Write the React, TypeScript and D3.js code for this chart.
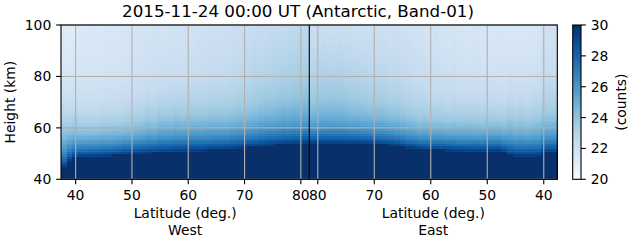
import React from "react";
import * as d3 from "d3";

// ---------- data ----------
const TITLE = "2015-11-24 00:00 UT (Antarctic, Band-01)";
const heightTicks = [40, 60, 80, 100];
const latTicks = [40, 50, 60, 70, 80];
const cbTicks = [20, 22, 24, 26, 28, 30];
const heightRows = d3.range(40, 100, 1); // 1-km rows (row bottoms)

// West half: column start latitudes (increasing poleward), last column ends at westEnd
const westLat = [37.4, 38.4, 39.4, 40.4, 41.4, 42.4, 43.4, 44.4, 45.4, 46.4, 47.4, 48.4, 49.4, 50.4, 51.4, 52.4, 53.4, 54.4, 55.4, 56.4, 57.4, 58.4, 59.4, 60.4, 61.4, 62.4, 63.4, 64.4, 65.4, 66.4, 67.4, 68.4, 69.4, 70.4, 71.4, 72.4, 73.4, 74.4, 75.4, 76.4, 77.4, 78.4, 79.4, 80.4];
const westEnd = 81.5;
// top of saturated layer (km)
const westTop = [45.0, 47.5, 48.6, 49.0, 49.1, 49.2, 49.2, 49.3, 49.4, 49.6, 49.8, 50.0, 50.1, 50.2, 50.4, 50.5, 50.6, 50.7, 50.8, 50.9, 51.0, 51.1, 51.2, 51.3, 51.4, 51.5, 51.6, 51.7, 51.8, 51.9, 52.1, 52.3, 52.5, 52.7, 52.9, 53.1, 53.3, 53.5, 53.6, 53.8, 53.9, 54.0, 54.1, 54.3];
// fall-off scale above the layer (km)
const westScale = [11, 9.5, 9, 8, 8, 8, 8, 8, 8, 8, 8, 8, 8, 8.5, 8.5, 9, 9, 9.5, 9.5, 9.5, 9.5, 9.5, 9.5, 9.5, 9, 9, 9, 9, 8.5, 8.5, 8.5, 8.5, 8, 8, 8, 8, 8, 8, 8, 8, 7.5, 7.5, 7.5, 7.5];
// background counts at 70 km and 100 km
const westBg70 = [21.6, 21.6, 21.7, 21.8, 21.8, 21.8, 21.8, 21.9, 21.9, 21.9, 21.9, 22.0, 22.0, 22.0, 22.0, 22.1, 22.0, 22.1, 22.1, 22.1, 22.2, 22.1, 22.2, 22.2, 22.3, 22.3, 22.4, 22.4, 22.5, 22.5, 22.6, 22.7, 22.8, 22.9, 23.0, 23.1, 23.2, 23.2, 23.3, 23.4, 23.5, 23.6, 23.6, 23.7];
const westBg100 = [21.1, 21.1, 21.2, 21.4, 21.5, 21.5, 21.4, 21.5, 21.6, 21.5, 21.6, 21.6, 21.7, 21.8, 21.7, 21.8, 21.9, 21.8, 21.8, 21.9, 21.8, 21.9, 22.0, 21.9, 22.0, 22.0, 22.1, 22.0, 22.1, 22.1, 22.2, 22.2, 22.3, 22.3, 22.4, 22.4, 22.4, 22.5, 22.5, 22.5, 22.6, 22.6, 22.7, 22.7];

// East half: column start latitudes (decreasing equatorward), last column ends at eastEnd
const eastLat = [81.5, 80.5, 79.5, 78.5, 77.5, 76.5, 75.5, 74.5, 73.5, 72.5, 71.5, 70.5, 69.5, 68.5, 67.5, 66.5, 65.5, 64.5, 63.5, 62.5, 61.5, 60.5, 59.5, 58.5, 57.5, 56.5, 55.5, 54.5, 53.5, 52.5, 51.5, 50.5, 49.5, 48.5, 47.5, 46.5, 45.5, 44.5, 43.5, 42.5, 41.5, 40.5, 39.5, 38.5];
const eastEnd = 37.6;
const eastTop = [54.3, 54.3, 54.3, 54.3, 54.2, 54.2, 54.2, 54.1, 54.1, 54.0, 54.0, 53.9, 53.7, 53.6, 53.4, 53.1, 52.8, 52.5, 52.3, 52.0, 51.8, 51.7, 51.7, 51.6, 51.5, 51.4, 51.3, 51.2, 51.1, 51.1, 51.1, 51.2, 51.3, 51.3, 50.8, 49.8, 49.4, 49.4, 49.4, 49.4, 49.5, 50.6, 50.7, 50.7];
const eastScale = [6.5, 6.5, 6.5, 6.5, 6.5, 6.5, 6.5, 6.5, 6.5, 6.5, 6.5, 6.5, 7, 7, 7, 7, 7, 7, 7, 7, 7.5, 7.5, 7.5, 7.5, 7.5, 7.5, 7.5, 8, 8, 8, 8, 8, 8, 8, 8, 9.5, 9.5, 9.5, 9.5, 9.5, 9.5, 9, 9, 9];
const eastBg70 = [23.4, 23.5, 23.6, 23.6, 23.6, 23.6, 23.5, 23.4, 23.4, 23.3, 23.2, 23.2, 23.1, 23.0, 22.9, 22.9, 22.8, 22.7, 22.6, 22.5, 22.4, 22.3, 22.3, 22.3, 22.2, 22.3, 22.2, 22.1, 22.1, 22.1, 22.0, 22.1, 22.0, 22.0, 22.0, 22.0, 21.9, 22.0, 21.9, 22.0, 22.1, 22.4, 22.4, 22.4];
const eastBg100 = [22.2, 22.2, 22.3, 22.2, 22.2, 22.3, 22.2, 22.2, 22.1, 22.2, 22.1, 22.1, 22.1, 22.1, 22.0, 22.1, 22.0, 22.0, 21.9, 21.9, 21.8, 21.8, 21.9, 21.8, 21.7, 21.8, 21.7, 21.6, 21.6, 21.7, 21.6, 21.6, 21.5, 21.6, 21.5, 21.5, 21.5, 21.4, 21.5, 21.5, 21.6, 21.9, 21.9, 21.9];

const BLUES = ["#f7fbff", "#deebf7", "#c6dbef", "#9ecae1", "#6baed6", "#4292c6", "#2171b5", "#08519c", "#08306b"];

// ---------- layout ----------
const W = 631, H = 243;
const PL = 61, PR = 557.3, PT = 25, PB = 179.3, MID = 309.3;
const CBX0 = 572.7, CBX1 = 581;
const FONT = "DejaVu Sans";
const FS = 13.9;
const TICK = 4.86;

const xWest = d3.scaleLinear().domain([westLat[0], westEnd]).range([PL, MID]);
const xEast = d3.scaleLinear().domain([eastLat[0], eastEnd]).range([MID, PR]);
const y = d3.scaleLinear().domain([40, 100]).range([PB, PT]);
const color = d3
  .scaleLinear<string>()
  .domain(d3.range(BLUES.length).map((i) => 20 + (10 * i) / (BLUES.length - 1)))
  .range(BLUES)
  .interpolate(d3.interpolateRgb)
  .clamp(true);
const cbY = d3.scaleLinear().domain([20, 30]).range([PB, PT]);

function cellValue(h: number, top: number, sc: number, b70: number, b100: number) {
  if (h < top) return 31;
  const b = b100 + ((b70 - b100) * (100 - h)) / 30;
  return b + (29.5 - b) * Math.exp(-(h - top) / sc);
}

type Col = { x0: number; x1: number; top: number; sc: number; b70: number; b100: number };

const cols: Col[] = [
  ...westLat.map((lat, i) => ({
    x0: xWest(lat),
    x1: xWest(i + 1 < westLat.length ? westLat[i + 1] : westEnd),
    top: westTop[i],
    sc: westScale[i],
    b70: westBg70[i],
    b100: westBg100[i],
  })),
  ...eastLat.map((lat, i) => ({
    x0: xEast(lat),
    x1: xEast(i + 1 < eastLat.length ? eastLat[i + 1] : eastEnd),
    top: eastTop[i],
    sc: eastScale[i],
    b70: eastBg70[i],
    b100: eastBg100[i],
  })),
];

export default function App() {
  const cbSteps = d3.range(20, 30, 0.05);
  return (
    <svg
      width={W}
      height={H}
      style={{ position: "absolute", left: 0, top: 0, background: "#fff" }}
      fontFamily={FONT}
    >
      {/* heatmap */}
      <g shapeRendering="crispEdges">
        {cols.map((c, ci) =>
          heightRows.map((h) => (
            <rect
              key={`${ci}-${h}`}
              x={c.x0}
              y={y(h + 1)}
              width={c.x1 - c.x0 + 0.6}
              height={y(h) - y(h + 1) + 0.6}
              fill={color(cellValue(h + 0.5, c.top, c.sc, c.b70, c.b100))}
            />
          ))
        )}
      </g>
      {/* grid */}
      <g stroke="#b0b0b0" strokeWidth={1.1}>
        {latTicks.map((t) => (
          <line key={`gw${t}`} x1={xWest(t)} x2={xWest(t)} y1={PT} y2={PB} />
        ))}
        {latTicks.map((t) => (
          <line key={`ge${t}`} x1={xEast(t)} x2={xEast(t)} y1={PT} y2={PB} />
        ))}
        {heightTicks.map((t) => (
          <line key={`gh${t}`} x1={PL} x2={PR} y1={y(t)} y2={y(t)} />
        ))}
      </g>
      {/* frame + separator */}
      <rect x={PL} y={PT} width={PR - PL} height={PB - PT} fill="none" stroke="#000" strokeWidth={1.1} />
      <line x1={MID} x2={MID} y1={PT} y2={PB} stroke="#000" strokeWidth={1.1} />

      {/* y axis */}
      {heightTicks.map((t) => (
        <g key={`yt${t}`}>
          <line x1={PL - TICK} x2={PL} y1={y(t)} y2={y(t)} stroke="#000" strokeWidth={1.1} />
          <text x={PL - TICK - 4.86} y={y(t) + 5} textAnchor="end" fontSize={FS}>
            {t}
          </text>
        </g>
      ))}
      <text transform={`translate(15,${(PT + PB) / 2}) rotate(-90)`} textAnchor="middle" fontSize={FS}>
        Height (km)
      </text>

      {/* x axes */}
      {latTicks.map((t) => (
        <g key={`xw${t}`}>
          <line x1={xWest(t)} x2={xWest(t)} y1={PB} y2={PB + TICK} stroke="#000" strokeWidth={1.1} />
          <text x={xWest(t)} y={200} textAnchor="middle" fontSize={FS}>
            {t}
          </text>
        </g>
      ))}
      {latTicks.map((t) => (
        <g key={`xe${t}`}>
          <line x1={xEast(t)} x2={xEast(t)} y1={PB} y2={PB + TICK} stroke="#000" strokeWidth={1.1} />
          <text x={xEast(t)} y={200} textAnchor="middle" fontSize={FS}>
            {t}
          </text>
        </g>
      ))}
      <text x={(PL + MID) / 2} y={218} textAnchor="middle" fontSize={FS}>
        Latitude (deg.)
      </text>
      <text x={(PL + MID) / 2} y={234.5} textAnchor="middle" fontSize={FS}>
        West
      </text>
      <text x={(MID + PR) / 2} y={218} textAnchor="middle" fontSize={FS}>
        Latitude (deg.)
      </text>
      <text x={(MID + PR) / 2} y={234.5} textAnchor="middle" fontSize={FS}>
        East
      </text>

      {/* title */}
      <text x={298} y={17} textAnchor="middle" fontSize={16.7}>
        {TITLE}
      </text>

      {/* colorbar */}
      <g shapeRendering="crispEdges">
        {cbSteps.map((v) => (
          <rect
            key={`cb${v.toFixed(2)}`}
            x={CBX0}
            y={cbY(v + 0.05)}
            width={CBX1 - CBX0}
            height={cbY(v) - cbY(v + 0.05) + 0.5}
            fill={color(v + 0.025)}
          />
        ))}
      </g>
      <rect x={CBX0} y={PT} width={CBX1 - CBX0} height={PB - PT} fill="none" stroke="#000" strokeWidth={1.1} />
      {cbTicks.map((t) => (
        <g key={`cbt${t}`}>
          <line x1={CBX1} x2={CBX1 + TICK} y1={cbY(t)} y2={cbY(t)} stroke="#000" strokeWidth={1.1} />
          <text x={CBX1 + TICK + 4.86} y={cbY(t) + 5} fontSize={FS}>
            {t}
          </text>
        </g>
      ))}
      <text transform={`translate(625.5,${(PT + PB) / 2}) rotate(-90)`} textAnchor="middle" fontSize={FS}>
        (counts)
      </text>
    </svg>
  );
}
